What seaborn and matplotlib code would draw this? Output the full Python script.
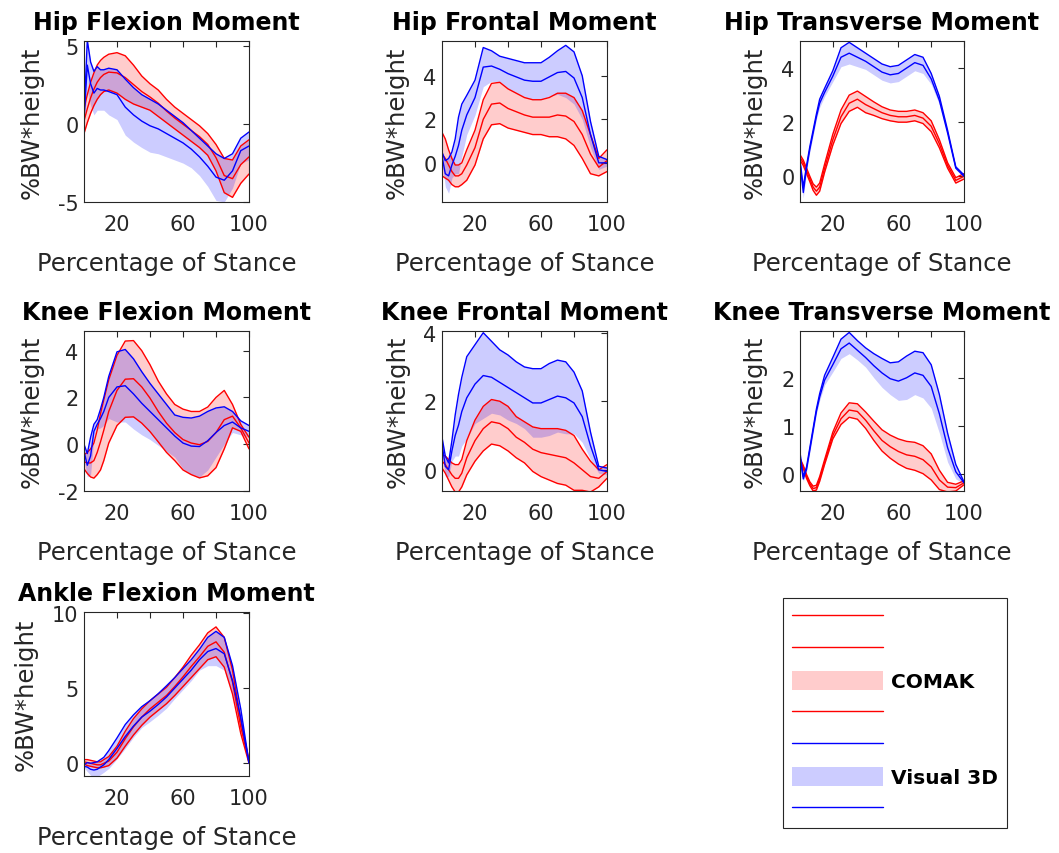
import numpy as np
import matplotlib
matplotlib.use("Agg")
import matplotlib.pyplot as plt
import seaborn as sns
from matplotlib.lines import Line2D
from matplotlib.patches import Patch

# ---------------- data ----------------
pct_stance = [0, 2, 4, 6, 8, 10, 12, 15, 20, 25, 30, 35, 40, 45, 50, 55, 60, 65, 70, 75, 80, 85, 90, 95, 100]

panel_titles = ["Hip Flexion Moment", "Hip Frontal Moment", "Hip Transverse Moment",
                "Knee Flexion Moment", "Knee Frontal Moment", "Knee Transverse Moment",
                "Ankle Flexion Moment"]
series_names = ["COMAK", "Visual 3D"]
y_label = "%BW*height"
x_label = "Percentage of Stance"
x_ticks = [20, 40, 60, 80, 100]
x_tick_labels = ["20", "", "60", "", "100"]

# Hip flexion
hip_flex_comak_mean = [0.2, 1.0, 1.7, 2.25, 2.7, 3.0, 3.2, 3.35, 3.3, 3.0, 2.55, 2.1, 1.75, 1.35, 0.85, 0.4, 0.0, -0.4, -0.8, -1.3, -2.15, -3.3, -3.5, -2.6, -2.1]
hip_flex_comak_sd = [0.8, 0.9, 1.0, 1.05, 1.1, 1.1, 1.1, 1.15, 1.3, 1.4, 1.25, 1.0, 0.85, 0.85, 0.75, 0.7, 0.7, 0.7, 0.7, 0.7, 0.85, 1.1, 1.2, 1.2, 1.1]
hip_flex_v3d_mean = [0.3, 3.8, 2.6, 2.0, 2.3, 2.2, 2.2, 2.1, 1.9, 1.1, 0.6, 0.2, -0.1, -0.3, -0.6, -0.9, -1.2, -1.6, -2.1, -2.7, -3.4, -3.6, -3.0, -1.7, -1.4]
hip_flex_v3d_sd = [0.2, 1.6, 1.4, 1.4, 1.4, 1.3, 1.3, 1.5, 1.6, 1.8, 1.75, 1.7, 1.7, 1.6, 1.5, 1.4, 1.3, 1.2, 1.2, 1.3, 1.5, 1.4, 1.1, 0.8, 0.9]

# Hip frontal
hip_front_comak_mean = [0.4, 0.2, -0.1, -0.4, -0.6, -0.6, -0.5, -0.1, 0.7, 2.0, 2.7, 2.75, 2.5, 2.35, 2.2, 2.1, 2.1, 2.1, 2.2, 2.15, 1.9, 1.3, 0.4, -0.2, 0.1]
hip_front_comak_sd = [1.0, 0.9, 0.7, 0.6, 0.5, 0.5, 0.5, 0.7, 0.8, 0.9, 0.95, 0.95, 0.9, 0.85, 0.8, 0.8, 0.8, 0.9, 1.0, 1.05, 1.1, 1.1, 0.9, 0.4, 0.5]
hip_front_v3d_mean = [0.3, -0.5, -0.6, -0.1, 0.3, 0.8, 1.5, 2.2, 3.0, 4.4, 4.45, 4.3, 4.1, 3.95, 3.8, 3.75, 3.75, 3.95, 4.15, 4.2, 3.9, 3.0, 1.3, 0.0, 0.0]
hip_front_v3d_sd = [0.2, 0.6, 0.8, 0.6, 0.8, 1.3, 1.2, 0.9, 0.8, 0.9, 0.7, 0.6, 0.7, 0.75, 0.8, 0.85, 0.85, 0.9, 1.0, 1.2, 1.2, 1.0, 0.6, 0.3, 0.15]

# Hip transverse
hip_trans_comak_mean = [0.7, 0.5, 0.2, -0.1, -0.4, -0.55, -0.4, 0.3, 1.35, 2.2, 2.7, 2.85, 2.65, 2.5, 2.35, 2.25, 2.2, 2.2, 2.25, 2.15, 1.85, 1.2, 0.4, -0.15, 0.0]
hip_trans_comak_sd = [0.1, 0.1, 0.1, 0.1, 0.12, 0.15, 0.15, 0.15, 0.2, 0.25, 0.3, 0.3, 0.3, 0.25, 0.22, 0.2, 0.2, 0.2, 0.2, 0.2, 0.2, 0.15, 0.1, 0.1, 0.1]
hip_trans_v3d_mean = [0.5, -0.6, 0.3, 1.0, 1.6, 2.2, 2.7, 3.1, 3.7, 4.4, 4.55, 4.4, 4.25, 4.05, 3.85, 3.75, 3.8, 4.0, 4.2, 4.1, 3.6, 2.8, 1.6, 0.3, 0.0]
hip_trans_v3d_sd = [0.1, 0.2, 0.1, 0.1, 0.1, 0.1, 0.15, 0.15, 0.2, 0.35, 0.4, 0.35, 0.3, 0.3, 0.3, 0.3, 0.3, 0.3, 0.3, 0.3, 0.2, 0.15, 0.1, 0.05, 0.05]

# Knee flexion
knee_flex_comak_mean = [-0.75, -0.8, -0.8, -0.7, -0.35, 0.1, 0.6, 1.4, 2.3, 2.78, 2.8, 2.45, 1.97, 1.4, 0.9, 0.5, 0.2, 0.05, -0.02, 0.12, 0.5, 1.05, 1.2, 0.7, 0.05]
knee_flex_comak_sd = [0.3, 0.45, 0.6, 0.75, 0.95, 1.2, 1.3, 1.35, 1.5, 1.63, 1.63, 1.55, 1.43, 1.3, 1.25, 1.2, 1.3, 1.35, 1.42, 1.47, 1.5, 1.25, 0.5, 0.15, 0.25]
knee_flex_v3d_mean = [-0.3, -0.9, -0.5, 0.55, 0.85, 1.1, 1.4, 2.0, 2.45, 2.5, 2.15, 1.75, 1.4, 1.05, 0.7, 0.35, 0.05, -0.08, -0.1, 0.15, 0.5, 0.8, 0.95, 0.7, 0.55]
knee_flex_v3d_sd = [0.3, 0.5, 0.8, 0.3, 0.2, 0.4, 0.6, 0.9, 1.5, 1.55, 1.5, 1.35, 1.2, 1.1, 1.0, 0.9, 1.1, 1.2, 1.3, 1.25, 1.05, 0.8, 0.45, 0.3, 0.25]

# Knee frontal
knee_front_comak_mean = [0.25, 0.15, 0.0, -0.15, -0.25, -0.25, -0.1, 0.35, 0.85, 1.2, 1.4, 1.35, 1.2, 0.95, 0.8, 0.6, 0.5, 0.45, 0.4, 0.35, 0.2, 0.0, -0.2, -0.25, -0.05]
knee_front_comak_sd = [0.2, 0.25, 0.3, 0.35, 0.4, 0.4, 0.4, 0.5, 0.6, 0.65, 0.65, 0.65, 0.65, 0.6, 0.6, 0.65, 0.7, 0.75, 0.8, 0.8, 0.8, 0.6, 0.45, 0.25, 0.2]
knee_front_v3d_mean = [0.75, 0.1, 0.0, 0.55, 1.0, 1.3, 1.7, 2.1, 2.5, 2.75, 2.7, 2.55, 2.4, 2.25, 2.1, 1.95, 1.95, 2.05, 2.15, 2.1, 1.95, 1.55, 0.7, 0.0, -0.05]
knee_front_v3d_sd = [0.2, 0.3, 0.2, 0.3, 0.6, 0.9, 1.0, 1.2, 1.15, 1.25, 1.05, 0.95, 0.95, 0.9, 0.9, 1.0, 1.0, 1.05, 1.05, 1.05, 0.9, 0.75, 0.4, 0.1, 0.1]

# Knee transverse
knee_trans_comak_mean = [0.3, 0.15, -0.05, -0.2, -0.3, -0.28, -0.1, 0.25, 0.8, 1.15, 1.33, 1.3, 1.12, 0.9, 0.7, 0.57, 0.47, 0.4, 0.37, 0.3, 0.15, -0.12, -0.27, -0.28, -0.18]
knee_trans_comak_sd = [0.03, 0.03, 0.04, 0.04, 0.05, 0.05, 0.05, 0.05, 0.07, 0.12, 0.15, 0.16, 0.17, 0.2, 0.22, 0.24, 0.26, 0.28, 0.29, 0.29, 0.27, 0.2, 0.1, 0.07, 0.04]
knee_trans_v3d_mean = [0.35, -0.1, 0.1, 0.5, 0.9, 1.3, 1.6, 1.95, 2.27, 2.6, 2.72, 2.57, 2.42, 2.25, 2.1, 1.98, 1.93, 2.0, 2.1, 2.05, 1.82, 1.25, 0.55, 0.05, -0.18]
knee_trans_v3d_sd = [0.1, 0.05, 0.05, 0.05, 0.05, 0.05, 0.07, 0.1, 0.15, 0.2, 0.22, 0.2, 0.2, 0.25, 0.3, 0.33, 0.4, 0.45, 0.45, 0.47, 0.45, 0.4, 0.3, 0.15, 0.02]

# Ankle flexion
ankle_flex_comak_mean = [0.05, 0.0, -0.05, -0.1, -0.15, -0.15, -0.05, 0.1, 0.7, 1.6, 2.4, 3.05, 3.6, 4.05, 4.5, 5.1, 5.75, 6.45, 7.1, 7.8, 8.1, 7.4, 5.4, 2.4, 0.05]
ankle_flex_comak_sd = [0.15, 0.2, 0.2, 0.2, 0.2, 0.2, 0.25, 0.3, 0.4, 0.5, 0.55, 0.55, 0.55, 0.55, 0.55, 0.6, 0.65, 0.75, 0.8, 0.9, 1.0, 1.0, 0.8, 0.45, 0.1]
ankle_flex_v3d_mean = [-0.25, -0.3, -0.45, -0.5, -0.45, -0.3, -0.15, 0.2, 0.95, 1.75, 2.45, 3.05, 3.45, 3.9, 4.4, 5.0, 5.6, 6.2, 6.9, 7.45, 7.65, 7.3, 5.5, 3.0, -0.05]
ankle_flex_v3d_sd = [0.1, 0.3, 0.4, 0.5, 0.5, 0.5, 0.5, 0.6, 0.7, 0.8, 0.75, 0.7, 0.7, 0.72, 0.75, 0.7, 0.7, 0.7, 0.7, 0.95, 1.15, 1.1, 1.0, 0.6, 0.05]

y_limits = [(-5, 5.35), (-1.8, 5.6), (-0.95, 5.0), (-2, 4.84), (-0.62, 4.05), (-0.35, 2.97), (-0.9, 10.1)]
y_ticks = [[-5, 0, 5], [0, 2, 4], [0, 2, 4], [-2, 0, 2, 4], [0, 2, 4], [0, 1, 2], [0, 5, 10]]

panels = [
    (hip_flex_comak_mean, hip_flex_comak_sd, hip_flex_v3d_mean, hip_flex_v3d_sd),
    (hip_front_comak_mean, hip_front_comak_sd, hip_front_v3d_mean, hip_front_v3d_sd),
    (hip_trans_comak_mean, hip_trans_comak_sd, hip_trans_v3d_mean, hip_trans_v3d_sd),
    (knee_flex_comak_mean, knee_flex_comak_sd, knee_flex_v3d_mean, knee_flex_v3d_sd),
    (knee_front_comak_mean, knee_front_comak_sd, knee_front_v3d_mean, knee_front_v3d_sd),
    (knee_trans_comak_mean, knee_trans_comak_sd, knee_trans_v3d_mean, knee_trans_v3d_sd),
    (ankle_flex_comak_mean, ankle_flex_comak_sd, ankle_flex_v3d_mean, ankle_flex_v3d_sd),
]

# ---------------- style / layout ----------------
sns.set_theme(style="white")
plt.rcParams["font.family"] = ["DejaVu Sans"]
plt.rcParams["axes.edgecolor"] = (0.15, 0.15, 0.15)
plt.rcParams["axes.linewidth"] = 0.8

W, H = 1059, 854
fig = plt.figure(figsize=(W / 100, H / 100), dpi=100)
fig.patch.set_facecolor("white")

col_lr = [(84, 249), (442, 607), (800, 964)]
row_tb = [(42, 203), (332, 492), (613, 777)]
ylabel_right_px = [-40, -33, -33, -40, -32, -33, -46]

RED = (1, 0, 0)
BLUE = (0, 0, 1)
GRAY = (0.15, 0.15, 0.15)
x = np.array(pct_stance, dtype=float)

for i, (cm, cs, bm, bs) in enumerate(panels):
    r, c = divmod(i, 3)
    l, rr = col_lr[c]
    t, b = row_tb[r]
    ax = fig.add_axes([l / W, 1 - b / H, (rr - l) / W, (b - t) / H])
    cm, cs, bm, bs = map(np.asarray, (cm, cs, bm, bs))

    ax.fill_between(x, cm - cs, cm + cs, color=RED, alpha=0.2, lw=0)
    for yy in (cm + cs, cm, cm - cs):
        sns.lineplot(x=x, y=yy, ax=ax, color=RED, lw=1.0, errorbar=None, legend=False)
    ax.fill_between(x, bm - bs, bm + bs, color=BLUE, alpha=0.2, lw=0)
    for yy in (bm + bs, bm):
        sns.lineplot(x=x, y=yy, ax=ax, color=BLUE, lw=1.0, errorbar=None, legend=False)

    ax.set_xlim(0, 100)
    ax.set_ylim(*y_limits[i])
    ax.set_xticks(x_ticks)
    ax.set_xticklabels(x_tick_labels)
    ax.set_yticks(y_ticks[i])
    ax.set_yticklabels([str(v) for v in y_ticks[i]])
    ax.tick_params(direction="in", top=True, right=True, length=4, width=0.8,
                   colors=GRAY, labelsize=15, labelcolor=GRAY)
    ax.tick_params(axis="x", pad=9)
    ax.tick_params(axis="y", pad=4)
    for s in ax.spines.values():
        s.set_visible(True)
        s.set_color(GRAY)
        s.set_linewidth(0.8)

    ax.set_title(panel_titles[i], fontsize=17, fontweight="bold", color="black", pad=8.5)
    ax.set_xlabel(x_label, fontsize=17.5, color=GRAY)
    ax.set_ylabel(y_label, fontsize=17.5, color=GRAY)
    wpx, hpx = rr - l, b - t
    ax.xaxis.set_label_coords(0.5, -49 / hpx)
    ax.yaxis.set_label_coords(ylabel_right_px[i] / wpx, 0.5)

# ---------------- legend ----------------
handles = [
    Line2D([], [], color=RED, lw=1.0),
    Line2D([], [], color=RED, lw=1.0),
    Patch(facecolor=(1, 0, 0, 0.2), edgecolor="none"),
    Line2D([], [], color=RED, lw=1.0),
    Line2D([], [], color=BLUE, lw=1.0),
    Patch(facecolor=(0, 0, 1, 0.2), edgecolor="none"),
    Line2D([], [], color=BLUE, lw=1.0),
]
labels = ["", "", series_names[0], "", "", series_names[1], ""]
leg = fig.legend(handles, labels, loc="upper left", bbox_to_anchor=(783 / W, 1 - 599 / H),
                 frameon=True, fancybox=False, framealpha=1, edgecolor=GRAY,
                 handlelength=4.5, handleheight=1.1, handletextpad=0.4,
                 labelspacing=0.565, borderpad=0.45, borderaxespad=0,
                 labelcolor="black", prop={"weight": "bold", "size": 14.5})
leg.get_frame().set_linewidth(0.8)

fig.savefig("out.png", dpi=100, facecolor="white")
